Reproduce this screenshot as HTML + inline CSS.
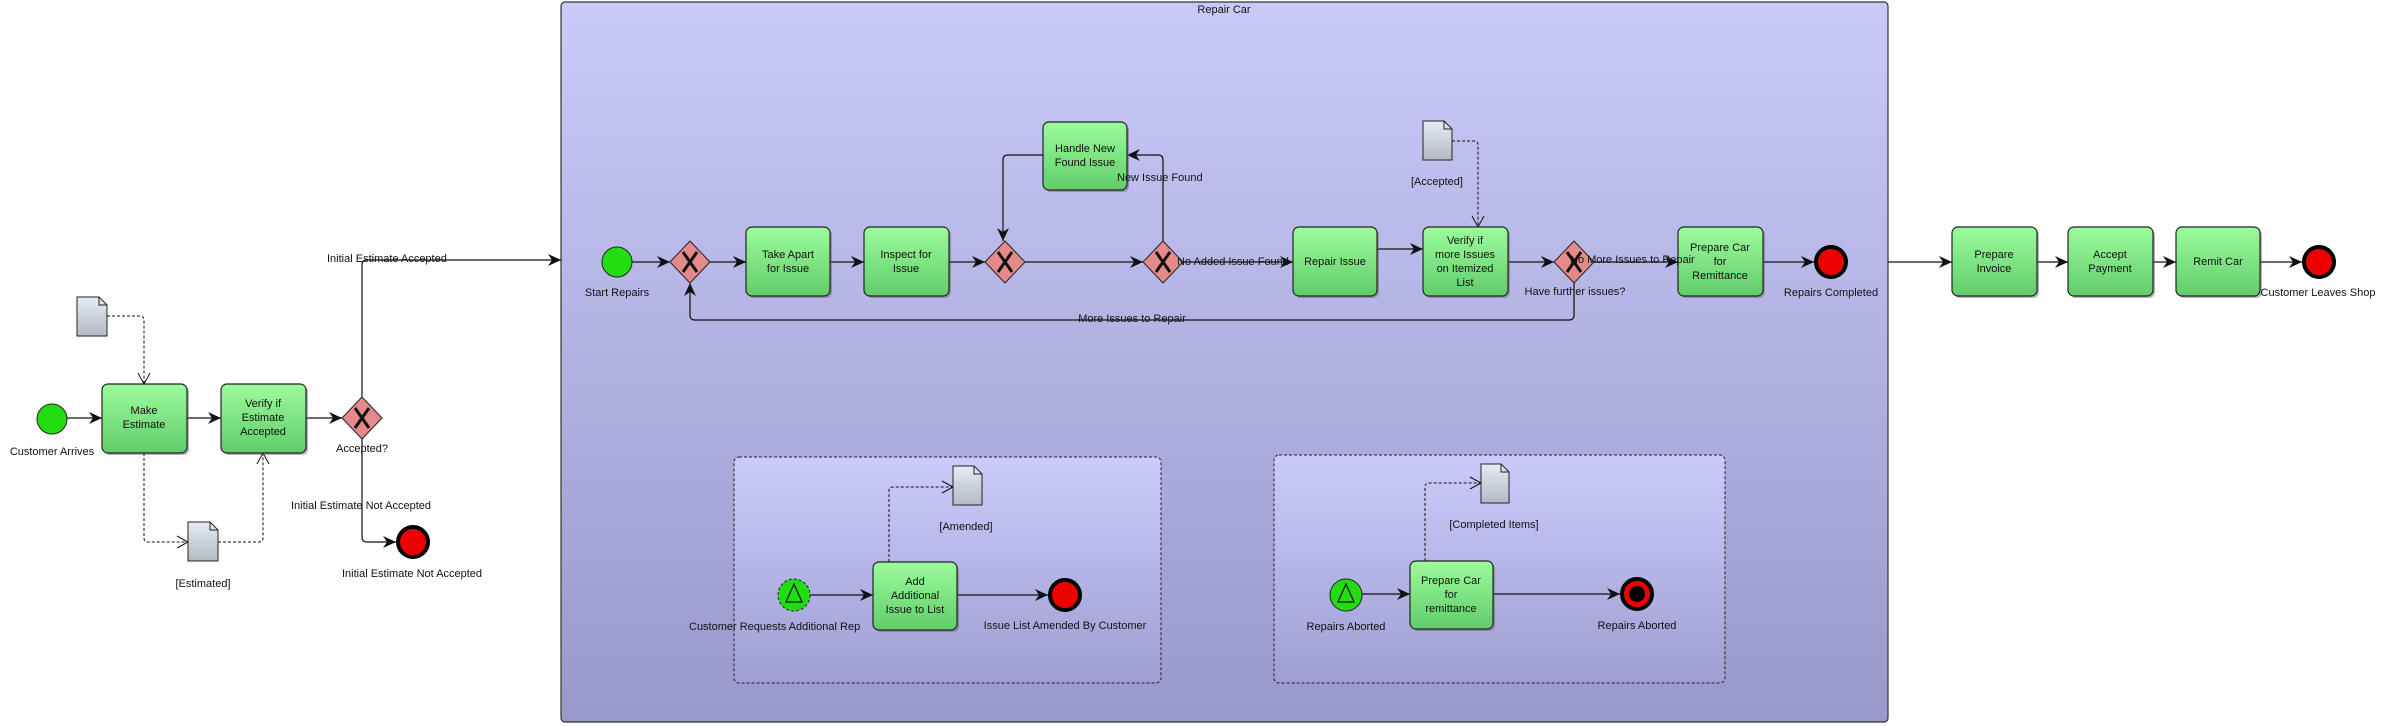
<!DOCTYPE html>
<html><head><meta charset="utf-8"><style>
html,body{margin:0;padding:0;background:#fff;}
svg{display:block;}
text{font-family:"Liberation Sans",sans-serif;font-size:11px;fill:#111;}
</style></head><body>
<svg width="2384" height="726" viewBox="0 0 2384 726" xmlns="http://www.w3.org/2000/svg">
<defs>
<linearGradient id="pool" x1="0" y1="0" x2="0" y2="1"><stop offset="0" stop-color="#cacaf9"/><stop offset="1" stop-color="#9898cb"/></linearGradient>
<linearGradient id="sub" x1="0" y1="0" x2="0" y2="1"><stop offset="0" stop-color="#cbcbfb"/><stop offset="1" stop-color="#9e9ed2"/></linearGradient>
<linearGradient id="task" x1="0" y1="0" x2="0" y2="1"><stop offset="0" stop-color="#9cfc9c"/><stop offset="1" stop-color="#62cc6a"/></linearGradient>
<linearGradient id="doc" x1="0" y1="0" x2="0" y2="1"><stop offset="0" stop-color="#e6ecf4"/><stop offset="1" stop-color="#b4bac4"/></linearGradient>
<marker id="a" markerWidth="14" markerHeight="12" refX="13" refY="6" orient="auto" markerUnits="userSpaceOnUse"><path d="M0,0 L13,6 L0,12 L4,6 Z" fill="#111"/></marker>
<marker id="o" markerWidth="14" markerHeight="14" refX="12" refY="7" orient="auto" markerUnits="userSpaceOnUse"><path d="M1,1 L12,7 L1,13" fill="none" stroke="#111" stroke-width="1"/></marker>
</defs>

<rect x="561" y="2" width="1327" height="720" rx="4" fill="url(#pool)" stroke="#333" stroke-width="1.2"/>
<text x="1224" y="13" text-anchor="middle">Repair Car</text>

<rect x="734" y="457" width="427" height="226" rx="5" fill="url(#sub)" stroke="#222" stroke-dasharray="3,2"/>
<rect x="1274" y="455" width="451" height="228" rx="5" fill="url(#sub)" stroke="#222" stroke-dasharray="3,2"/>

<g fill="none" stroke="#111" stroke-width="1.2">
<line x1="67" y1="418" x2="102" y2="418" marker-end="url(#a)"/>
<line x1="187" y1="418" x2="221" y2="418" marker-end="url(#a)"/>
<line x1="306" y1="418" x2="342" y2="418" marker-end="url(#a)"/>
<path d="M362,397 V265 Q362,260 367,260 H561" marker-end="url(#a)"/>
<path d="M362,439 V537 Q362,542 367,542 H396" marker-end="url(#a)"/>
<line x1="632" y1="262" x2="670" y2="262" marker-end="url(#a)"/>
<line x1="710" y1="262" x2="746" y2="262" marker-end="url(#a)"/>
<line x1="830" y1="262" x2="864" y2="262" marker-end="url(#a)"/>
<line x1="949" y1="262" x2="985" y2="262" marker-end="url(#a)"/>
<line x1="1025" y1="262" x2="1143" y2="262" marker-end="url(#a)"/>
<line x1="1183" y1="262" x2="1293" y2="262" marker-end="url(#a)"/>
<line x1="1377" y1="249" x2="1423" y2="249" marker-end="url(#a)"/>
<line x1="1508" y1="262" x2="1554" y2="262" marker-end="url(#a)"/>
<line x1="1594" y1="262" x2="1678" y2="262" marker-end="url(#a)"/>
<line x1="1763" y1="262" x2="1814" y2="262" marker-end="url(#a)"/>
<path d="M1163,241 V160 Q1163,155 1158,155 H1127" marker-end="url(#a)"/>
<path d="M1043,155 H1008 Q1003,155 1003,160 V241" marker-end="url(#a)"/>
<path d="M1574,283 V315 Q1574,320 1569,320 H695 Q690,320 690,315 V283" marker-end="url(#a)"/>
<line x1="1888" y1="262" x2="1952" y2="262" marker-end="url(#a)"/>
<line x1="2037" y1="262" x2="2068" y2="262" marker-end="url(#a)"/>
<line x1="2153" y1="262" x2="2176" y2="262" marker-end="url(#a)"/>
<line x1="2260" y1="262" x2="2302" y2="262" marker-end="url(#a)"/>
<line x1="810" y1="595" x2="873" y2="595" marker-end="url(#a)"/>
<line x1="957" y1="595" x2="1048" y2="595" marker-end="url(#a)"/>
<line x1="1362" y1="594" x2="1410" y2="594" marker-end="url(#a)"/>
<line x1="1493" y1="594" x2="1620" y2="594" marker-end="url(#a)"/>
</g>

<g fill="none" stroke="#111" stroke-width="1" stroke-dasharray="3,2">
<path d="M107,316 H140 Q144,316 144,320 V384" marker-end="url(#o)"/>
<path d="M144,453 V538 Q144,542 148,542 H188" marker-end="url(#o)"/>
<path d="M218,542 H259 Q263,542 263,538 V453" marker-end="url(#o)"/>
<path d="M1452,141 H1474 Q1478,141 1478,145 V227" marker-end="url(#o)"/>
<path d="M889,562 V491 Q889,487 893,487 H953" marker-end="url(#o)"/>
<path d="M1425,561 V487 Q1425,483 1429,483 H1481" marker-end="url(#o)"/>
</g>

<g stroke="#222" stroke-width="1.2">
<g fill="#666" stroke="none" opacity="0.5">
<rect x="104" y="386" width="85" height="69" rx="6"/><rect x="223" y="386" width="85" height="69" rx="6"/>
<rect x="748" y="229" width="84" height="69" rx="6"/><rect x="866" y="229" width="85" height="69" rx="6"/>
<rect x="1045" y="124" width="84" height="68" rx="6"/><rect x="1295" y="229" width="84" height="69" rx="6"/>
<rect x="1425" y="229" width="85" height="69" rx="6"/><rect x="1680" y="229" width="85" height="69" rx="6"/>
<rect x="1954" y="229" width="85" height="69" rx="6"/><rect x="2070" y="229" width="85" height="69" rx="6"/>
<rect x="2178" y="229" width="84" height="69" rx="6"/><rect x="875" y="564" width="84" height="68" rx="6"/>
<rect x="1412" y="563" width="83" height="68" rx="6"/>
</g>
<g fill="url(#task)">
<rect x="102" y="384" width="85" height="69" rx="6"/><rect x="221" y="384" width="85" height="69" rx="6"/>
<rect x="746" y="227" width="84" height="69" rx="6"/><rect x="864" y="227" width="85" height="69" rx="6"/>
<rect x="1043" y="122" width="84" height="68" rx="6"/><rect x="1293" y="227" width="84" height="69" rx="6"/>
<rect x="1423" y="227" width="85" height="69" rx="6"/><rect x="1678" y="227" width="85" height="69" rx="6"/>
<rect x="1952" y="227" width="85" height="69" rx="6"/><rect x="2068" y="227" width="85" height="69" rx="6"/>
<rect x="2176" y="227" width="84" height="69" rx="6"/><rect x="873" y="562" width="84" height="68" rx="6"/>
<rect x="1410" y="561" width="83" height="68" rx="6"/>
</g>
</g>

<g stroke="#222" stroke-width="1" fill="#e58a8a">
<path d="M362,397 L382,418 L362,439 L342,418 Z"/>
<path d="M690,241 L710,262 L690,283 L670,262 Z"/>
<path d="M1005,241 L1025,262 L1005,283 L985,262 Z"/>
<path d="M1163,241 L1183,262 L1163,283 L1143,262 Z"/>
<path d="M1574,241 L1594,262 L1574,283 L1554,262 Z"/>
</g>
<g stroke="#111" stroke-width="3">
<path d="M355,408 L369,428 M369,408 L355,428"/>
<path d="M683,252 L697,272 M697,252 L683,272"/>
<path d="M998,252 L1012,272 M1012,252 L998,272"/>
<path d="M1156,252 L1170,272 M1170,252 L1156,272"/>
<path d="M1567,252 L1581,272 M1581,252 L1567,272"/>
</g>

<g stroke="#222" stroke-width="1">
<circle cx="52" cy="419" r="15" fill="#22dd11"/>
<circle cx="617" cy="262" r="15" fill="#22dd11"/>
<circle cx="794" cy="595" r="16" fill="#22dd11" stroke-dasharray="3,2"/>
<circle cx="1346" cy="595" r="16" fill="#22dd11"/>
</g>
<g fill="none" stroke="#111" stroke-width="1.2">
<path d="M794,584 L802,602 L786,602 Z"/>
<path d="M1346,584 L1354,602 L1338,602 Z"/>
</g>
<g stroke="#000" stroke-width="4" fill="#e00">
<circle cx="413" cy="542" r="15"/>
<circle cx="1831" cy="262" r="15"/>
<circle cx="2319" cy="262" r="15"/>
<circle cx="1065" cy="595" r="15"/>
<circle cx="1637" cy="594" r="15"/>
</g>
<circle cx="1637" cy="594" r="8" fill="#000"/>

<g stroke="#222" stroke-width="1" fill="url(#doc)">
<path d="M77,297 H99 L107,305 V336 H77 Z"/>
<path d="M188,522 H210 L218,530 V561 H188 Z"/>
<path d="M1423,121 H1444 L1452,129 V160 H1423 Z"/>
<path d="M953,466 H974 L982,474 V505 H953 Z"/>
<path d="M1481,464 H1501 L1509,472 V503 H1481 Z"/>
</g>
<g fill="none" stroke="#222" stroke-width="1">
<path d="M99,297 V305 H107"/><path d="M210,522 V530 H218"/><path d="M1444,121 V129 H1452"/>
<path d="M974,466 V474 H982"/><path d="M1501,464 V472 H1509"/>
</g>

<g text-anchor="middle">
<text x="144" y="414">Make</text><text x="144" y="428">Estimate</text>
<text x="263" y="407">Verify if</text><text x="263" y="421">Estimate</text><text x="263" y="435">Accepted</text>
<text x="788" y="258">Take Apart</text><text x="788" y="272">for Issue</text>
<text x="906" y="258">Inspect for</text><text x="906" y="272">Issue</text>
<text x="1085" y="152">Handle New</text><text x="1085" y="166">Found Issue</text>
<text x="1335" y="265">Repair Issue</text>
<text x="1465" y="244">Verify if</text><text x="1465" y="258">more Issues</text><text x="1465" y="272">on Itemized</text><text x="1465" y="286">List</text>
<text x="1720" y="251">Prepare Car</text><text x="1720" y="265">for</text><text x="1720" y="279">Remittance</text>
<text x="1994" y="258">Prepare</text><text x="1994" y="272">Invoice</text>
<text x="2110" y="258">Accept</text><text x="2110" y="272">Payment</text>
<text x="2218" y="265">Remit Car</text>
<text x="915" y="585">Add</text><text x="915" y="599">Additional</text><text x="915" y="613">Issue to List</text>
<text x="1451" y="584">Prepare Car</text><text x="1451" y="598">for</text><text x="1451" y="612">remittance</text>

<text x="52" y="455">Customer Arrives</text>
<text x="362" y="452">Accepted?</text>
<text x="203" y="587">[Estimated]</text>
<text x="361" y="509">Initial Estimate Not Accepted</text>
<text x="412" y="577">Initial Estimate Not Accepted</text>
<text x="617" y="296">Start Repairs</text>
<text x="1437" y="185">[Accepted]</text>
<text x="1575" y="295">Have further issues?</text>
<text x="1132" y="322">More Issues to Repair</text>
<text x="1831" y="296">Repairs Completed</text>
<text x="2318" y="296">Customer Leaves Shop</text>
<text x="966" y="530">[Amended]</text>
<text x="1065" y="629">Issue List Amended By Customer</text>
<text x="1494" y="528">[Completed Items]</text>
<text x="1346" y="630">Repairs Aborted</text>
<text x="1637" y="629">Repairs Aborted</text>
</g>
<text x="327" y="262">Initial Estimate Accepted</text>
<text x="1117" y="181">New Issue  Found</text>
<text x="1177" y="265">No Added  Issue Found</text>
<text x="1570" y="263">No More Issues to Repair</text>
<text x="689" y="630">Customer Requests Additional  Rep</text>
</svg>
</body></html>
